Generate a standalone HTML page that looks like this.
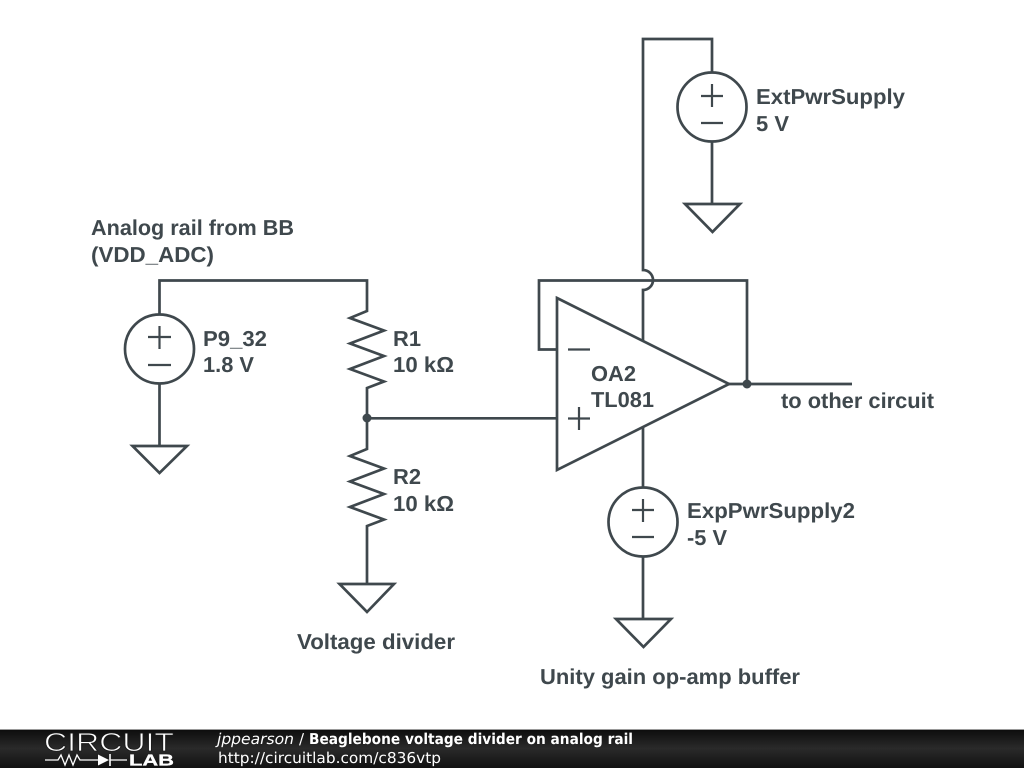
<!DOCTYPE html>
<html><head><meta charset="utf-8"><style>
html,body{margin:0;padding:0;background:#fff;width:1024px;height:768px;overflow:hidden}
svg{display:block}
text{text-rendering:geometricPrecision}
.t{font-family:"Liberation Sans",sans-serif;font-weight:700;font-size:21.6px;fill:#3f484d}
.f{font-family:"DejaVu Sans",sans-serif;font-size:15px;fill:#fff}
</style></head><body>
<svg width="1024" height="768" viewBox="0 0 1024 768" xmlns="http://www.w3.org/2000/svg">
<defs><linearGradient id="g" x1="0" y1="0" x2="0" y2="1"><stop offset="0" stop-color="#0c0c0c"/><stop offset="0.5" stop-color="#2a2a2a"/><stop offset="1" stop-color="#111"/></linearGradient></defs>
<g fill="none" stroke="#3f484d" stroke-width="2.7" stroke-linejoin="miter">
<path d="M159.500 315V280.500H367V311L350 318L384 330.500L350 343.500L384 356L350 369L384 381.500L367 388V449L350 456L384 468.500L350 481.500L384 494L350 507L384 519.500L367 526V584"/>
<circle cx="159.500" cy="349" r="34.500"/>
<path d="M159.500 384V446"/>
<path d="M132.500 446H187L159.500 473Z"/>
<path d="M339.500 584H394L367 612Z"/>
<path d="M367 418.300H557"/>
<path d="M557 298L729 384L557 470Z"/>
<path d="M557 349.500H539V280.500H747V384M729 384H852"/>
<path d="M643 341V290A10 10 0 0 0 643 270V39H712V73M712 141V204"/>
<circle cx="712" cy="107" r="34.500"/>
<path d="M685 204H740L712.500 232Z"/>
<path d="M643 427V488M643 556V619"/>
<circle cx="643" cy="522" r="34.500"/>
<path d="M616 619H671L643.500 647Z"/>
</g>
<g fill="none" stroke="#3f484d" stroke-width="2.200">
<path d="M159.500 326V349M148 337H171M148 365H171"/>
<path d="M568 349.500H590M579 407V430M568 418.500H590"/>
<path d="M712 84V107M701 96H723M701 123H723"/>
<path d="M643 499V522M632 510H654M632 537H654"/>
</g>
<circle cx="367" cy="418" r="4.500" fill="#3f484d"/>
<circle cx="747" cy="384" r="4.500" fill="#3f484d"/>
<text class="t" x="91" y="235" textLength="203" lengthAdjust="spacingAndGlyphs">Analog rail from BB</text>
<text class="t" x="91" y="262" textLength="123" lengthAdjust="spacingAndGlyphs">(VDD_ADC)</text>
<text class="t" x="203" y="346" textLength="64" lengthAdjust="spacingAndGlyphs">P9_32</text>
<text class="t" x="203" y="372" textLength="51" lengthAdjust="spacingAndGlyphs">1.8 V</text>
<text class="t" x="393" y="346" textLength="28" lengthAdjust="spacingAndGlyphs">R1</text>
<text class="t" x="393" y="372" textLength="61" lengthAdjust="spacingAndGlyphs">10 kΩ</text>
<text class="t" x="393" y="484" textLength="28" lengthAdjust="spacingAndGlyphs">R2</text>
<text class="t" x="393" y="511" textLength="61" lengthAdjust="spacingAndGlyphs">10 kΩ</text>
<text class="t" x="297" y="649" textLength="158" lengthAdjust="spacingAndGlyphs">Voltage divider</text>
<text class="t" x="591" y="381" textLength="45" lengthAdjust="spacingAndGlyphs">OA2</text>
<text class="t" x="591" y="407" textLength="63" lengthAdjust="spacingAndGlyphs">TL081</text>
<text class="t" x="781" y="408" textLength="153" lengthAdjust="spacingAndGlyphs">to other circuit</text>
<text class="t" x="756" y="104" textLength="149" lengthAdjust="spacingAndGlyphs">ExtPwrSupply</text>
<text class="t" x="756" y="131" textLength="33" lengthAdjust="spacingAndGlyphs">5 V</text>
<text class="t" x="687" y="518" textLength="168" lengthAdjust="spacingAndGlyphs">ExpPwrSupply2</text>
<text class="t" x="687" y="545" textLength="40" lengthAdjust="spacingAndGlyphs">-5 V</text>
<text class="t" x="540" y="684" textLength="260" lengthAdjust="spacingAndGlyphs">Unity gain op-amp buffer</text>
<rect x="0" y="729" width="1024" height="39" fill="url(#g)"/>
<rect x="0" y="729" width="1024" height="1" fill="#999"/>
<text x="44" y="751" font-family="Liberation Sans,sans-serif" font-size="26" fill="#fff" stroke="#1c1c1c" stroke-width="0.800" paint-order="fill stroke" textLength="130" lengthAdjust="spacingAndGlyphs">CIRCUIT</text>
<path d="M45 760H58L61 755L65 765L69 755L73 765L77 755L80 760H98M110 760H127" fill="none" stroke="#fff" stroke-width="1.300"/>
<path d="M98 754.500L109 760L98 765.500Z" fill="#fff"/><path d="M110 754V766" stroke="#fff" stroke-width="1.600"/>
<text x="129" y="765.500" font-family="Liberation Sans,sans-serif" font-size="16" font-weight="700" fill="#fff" stroke="#fff" stroke-width="0.300" textLength="45" lengthAdjust="spacingAndGlyphs">LAB</text>
<text class="f" x="217" y="744" font-style="italic" textLength="77" lengthAdjust="spacingAndGlyphs">jppearson</text>
<text class="f" x="299" y="744">/</text>
<text class="f" x="309" y="744" font-weight="700" textLength="324" lengthAdjust="spacingAndGlyphs">Beaglebone voltage divider on analog rail</text>
<text class="f" x="218" y="763" textLength="223" lengthAdjust="spacingAndGlyphs">http://circuitlab.com/c836vtp</text>
</svg>
</body></html>
